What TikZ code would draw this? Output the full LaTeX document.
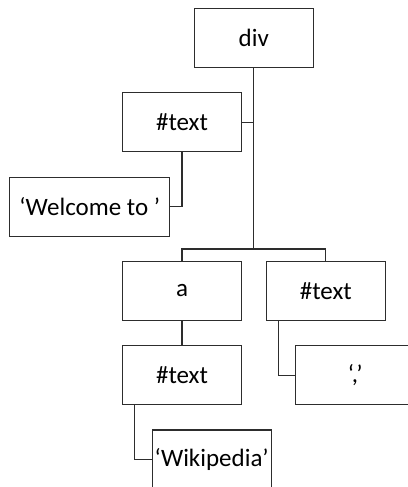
\documentclass[tikz,border=0pt]{standalone}
\usepackage{fontspec}
\setmainfont{Carlito}
\usepackage{xcolor}
\usepackage{tikz}
\usetikzlibrary{positioning, calc}
\definecolor{domline}{RGB}{45,45,45}

\tikzset{
  domnode/.style={
    draw=domline,
    line width=1.2pt,
    fill=white,
    minimum width=119pt,
    minimum height=59pt,
    inner sep=0pt,
    font=\fontsize{25}{28}\selectfont
  },
  domedge/.style={draw=domline, line width=1.2pt}
}

\begin{document}
\begin{tikzpicture}[x=1pt,y=-1pt]
\useasboundingbox (0,0) rectangle (407,487);

% element and text nodes
\node[domnode] (div) at (253.8,38.3) {div};
\node[domnode] (txtA) at (182,122.3) {\#text};
\node[domnode, minimum width=160pt] (welcome) at (89.7,206.8) {‘Welcome to ’};
\node[domnode] (anchor) at (182,291) {a};
\node[domnode] (txtB) at (325.8,291) {\#text};
\node[domnode] (txtC) at (182,375.3) {\#text};
\node[domnode] (comma) at (355.2,375.3) {‘,’};
\node[domnode] (wiki) at (211.7,459.5) {‘Wikipedia’};

% tree links
\coordinate (fork) at (div.south |- 0,249);
\draw[domedge] (div.south) -- (fork);
\draw[domedge] (anchor.north) -- (anchor.north |- fork) -- (txtB.north |- fork) -- (txtB.north);
\draw[domedge] (txtA.east) -- (txtA.east -| div.south);
\draw[domedge] (txtA.south) |- (welcome.east);
\draw[domedge] (anchor.south) -- (txtC.north);
\draw[domedge] ([xshift=-47.5pt]txtB.south) |- (comma.west);
\draw[domedge] ([xshift=-47.3pt]txtC.south) |- (wiki.west);
\end{tikzpicture}
\end{document}
